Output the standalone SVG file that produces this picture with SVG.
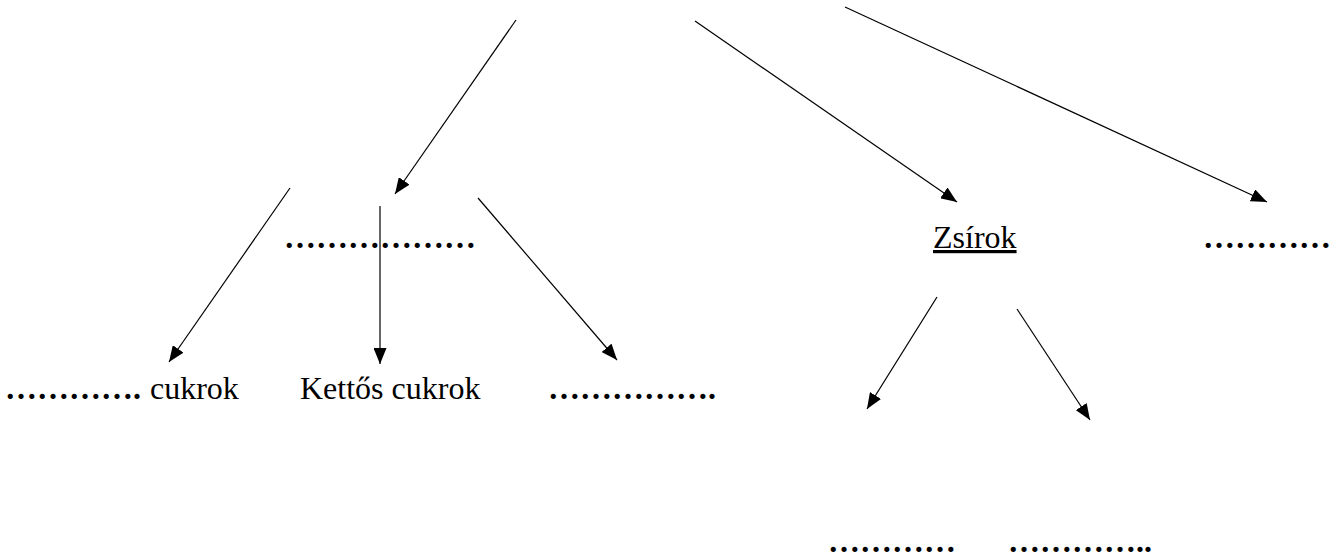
<svg xmlns="http://www.w3.org/2000/svg" width="1339" height="557" viewBox="0 0 1339 557">
<style>
.t{font-family:'Liberation Serif','DejaVu Serif',serif;font-size:32px;fill:#000}
.d{font-family:'Liberation Serif','DejaVu Serif',serif;font-size:32px;font-weight:bold;fill:#000}
.c line{stroke:#000;stroke-width:1.2;marker-end:url(#ah)}
</style>
<defs>
<marker id="ah" markerUnits="userSpaceOnUse" markerWidth="17" markerHeight="13" refX="16" refY="6.5" orient="auto">
<path d="M0,0 L16,6.5 L0,13 z" fill="#000"/>
</marker>
</defs>
<rect width="1339" height="557" fill="#fff"/>
<g class="c" id="connectors">
<line x1="516" y1="20" x2="395" y2="194"/>
<line x1="695" y1="21" x2="957" y2="202"/>
<line x1="845" y1="7" x2="1267" y2="202"/>
<line x1="290" y1="188" x2="169" y2="362"/>
<line x1="380" y1="206" x2="380" y2="364"/>
<line x1="478" y1="198" x2="617" y2="360"/>
<line x1="937" y1="297" x2="867" y2="409"/>
<line x1="1017" y1="309" x2="1090" y2="420"/>
</g>
<g id="n1"><text class="d" x="284" y="248">………………</text></g>
<g id="n2"><text class="d" x="5" y="399">………….</text><text class="t" x="150" y="399">cukrok</text></g>
<g id="n3"><text class="t" x="300" y="399">Kettős cukrok</text></g>
<g id="n4"><text class="d" x="548" y="399">…………….</text></g>
<g id="n5"><text class="t" x="933" y="248" text-decoration="underline">Zsírok</text></g>
<g id="n6"><text class="d" x="1203" y="248">…………</text></g>
<g id="n7"><text class="d" x="828" y="552">…………</text></g>
<g id="n8"><text class="d" x="1008" y="552">…………..</text></g>
</svg>
